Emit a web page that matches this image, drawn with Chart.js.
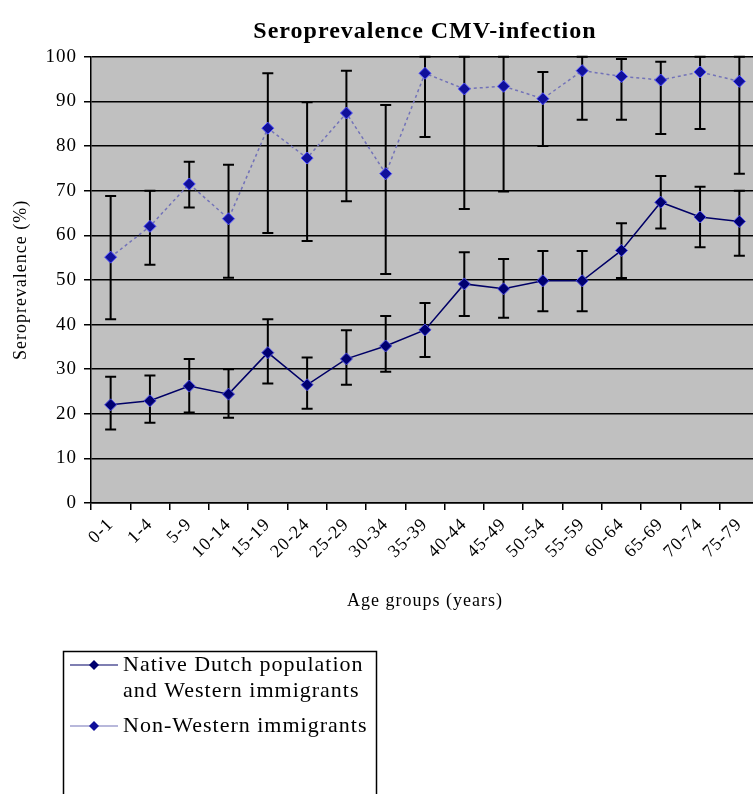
<!DOCTYPE html>
<html>
<head>
<meta charset="utf-8">
<script src="https://cdn.jsdelivr.net/npm/chart.js@4.4.1/dist/chart.umd.min.js"></script>
<style>
html, body { margin: 0; padding: 0; overflow: hidden; background: #fff; }
#wrap { position: relative; width: 770px; height: 794px; }
</style>
</head>
<body>
<div id="wrap"><canvas id="cmvChart" width="770" height="794"></canvas></div>
<script>
// Donnees
var ageGroups = ['0-1', '1-4', '5-9', '10-14', '15-19', '20-24', '25-29', '30-34', '35-39',
    '40-44', '45-49', '50-54', '55-59', '60-64', '65-69', '70-74', '75-79'];

var nativeValues = [22.0, 22.9, 26.2, 24.4, 33.7, 26.5, 32.3, 35.2, 38.8, 49.1, 48.0, 49.8, 49.8, 56.6, 67.4, 64.1, 63.1];
var nativeLow = [16.5, 18.0, 20.3, 19.1, 26.8, 21.1, 26.5, 29.4, 32.7, 41.9, 41.5, 43.0, 43.0, 50.4, 61.5, 57.3, 55.4];
var nativeHigh = [28.3, 28.6, 32.3, 30.0, 41.2, 32.6, 38.7, 41.9, 44.8, 56.2, 54.7, 56.5, 56.5, 62.7, 73.3, 70.9, 70.0];

var nonWesternValues = [55.1, 62.0, 71.5, 63.7, 84.0, 77.3, 87.4, 73.8, 96.3, 92.8, 93.4, 90.6, 96.9, 95.6, 94.8, 96.6, 94.5];
var nonWesternLow = [41.2, 53.4, 66.2, 50.5, 60.5, 58.7, 67.6, 51.3, 82.0, 65.9, 69.8, 80.0, 85.9, 85.9, 82.7, 83.8, 73.8];
var nonWesternHigh = [68.8, 70.0, 76.5, 75.8, 96.3, 89.8, 96.9, 89.2, 100, 100, 100, 96.6, 100, 99.5, 98.9, 100, 100];

var yTicks = [0, 10, 20, 30, 40, 50, 60, 70, 80, 90, 100];

var legendLines = [
    ['Native Dutch population', 'and Western immigrants'],
    ['Non-Western immigrants']
];

var serif = "'Liberation Serif', 'Times New Roman', serif";

// Espacement des lettres (le texte d'origine est assez large)
var espacement = {
    id: 'espacement',
    beforeLayout: function(chart) { chart.ctx.letterSpacing = '1px'; },
    beforeDraw: function(chart) { chart.ctx.letterSpacing = '1px'; }
};

// Fond gris de la zone du graphique
var fondGris = {
    id: 'fondGris',
    beforeDraw: function(chart) {
        var a = chart.chartArea;
        chart.ctx.save();
        chart.ctx.fillStyle = '#c0c0c0';
        chart.ctx.fillRect(a.left, a.top, a.right - a.left, a.bottom - a.top);
        chart.ctx.restore();
    }
};

// Barres d'erreur (intervalles)
var barresErreur = {
    id: 'barresErreur',
    beforeDatasetsDraw: function(chart) {
        var ctx = chart.ctx;
        var xs = chart.scales.x;
        var ys = chart.scales.y;
        ctx.save();
        ctx.strokeStyle = '#000';
        ctx.lineWidth = 2;
        chart.data.datasets.forEach(function(ds) {
            ds.errLow.forEach(function(lo, i) {
                var px = xs.getPixelForValue(i);
                var top = ys.getPixelForValue(ds.errHigh[i]);
                var bot = ys.getPixelForValue(lo);
                ctx.beginPath();
                ctx.moveTo(px, top); ctx.lineTo(px, bot);
                ctx.moveTo(px - 5.5, top); ctx.lineTo(px + 5.5, top);
                ctx.moveTo(px - 5.5, bot); ctx.lineTo(px + 5.5, bot);
                ctx.stroke();
            });
        });
        ctx.restore();
    }
};

// Legende dessinee a la main (libelles sur deux lignes)
var legendeBoite = {
    id: 'legendeBoite',
    afterDraw: function(chart) {
        var ctx = chart.ctx;
        ctx.save();
        ctx.strokeStyle = '#000';
        ctx.lineWidth = 1.5;
        ctx.strokeRect(63.5, 651.5, 313, 200);
        ctx.font = '22px ' + serif;
        ctx.letterSpacing = '1px';
        ctx.textBaseline = 'middle';
        var y = 665;
        chart.data.datasets.forEach(function(ds, k) {
            ctx.strokeStyle = ds.borderColor;
            ctx.lineWidth = 1.2;
            ctx.setLineDash([]);
            ctx.beginPath();
            ctx.moveTo(70, y); ctx.lineTo(118, y);
            ctx.stroke();
            ctx.fillStyle = ds.pointBackgroundColor;
            ctx.beginPath();
            ctx.moveTo(94, y - 5); ctx.lineTo(99, y); ctx.lineTo(94, y + 5); ctx.lineTo(89, y);
            ctx.closePath();
            ctx.fill();
            ctx.fillStyle = '#000';
            legendLines[k].forEach(function(t, j) {
                ctx.fillText(t, 123, y + j * 26);
            });
            y += legendLines[k].length * 26 + 9;
        });
        ctx.restore();
    }
};

var ctxCmv = document.getElementById('cmvChart').getContext('2d');

var cmvChart = new Chart(ctxCmv, {
    type: 'line',
    data: {
        labels: ageGroups,
        datasets: [{
            label: legendLines[0].join(' '),
            data: nativeValues,
            errLow: nativeLow,
            errHigh: nativeHigh,
            borderColor: '#000066',
            borderWidth: 1.5,
            pointStyle: 'rectRot',
            pointRadius: 6,
            pointBackgroundColor: '#000070',
            pointBorderColor: '#4a4ae0',
            pointBorderWidth: 1,
            tension: 0
        }, {
            label: legendLines[1].join(' '),
            data: nonWesternValues,
            errLow: nonWesternLow,
            errHigh: nonWesternHigh,
            borderColor: '#7272b8',
            borderWidth: 1.5,
            borderDash: [3, 3],
            pointStyle: 'rectRot',
            pointRadius: 6,
            pointBackgroundColor: '#10109a',
            pointBorderColor: '#5050ff',
            pointBorderWidth: 1,
            tension: 0
        }]
    },
    options: {
        responsive: false,
        animation: false,
        layout: {
            padding: { left: 0, right: 11, top: 0, bottom: 182 }
        },
        plugins: {
            legend: { display: false },
            tooltip: { enabled: false },
            title: {
                display: true,
                text: 'Seroprevalence CMV-infection',
                fullSize: false,
                color: '#000',
                font: { family: serif, size: 24, weight: 'bold' },
                padding: { top: 17, bottom: 11 }
            }
        },
        scales: {
            x: {
                offset: true,
                grid: {
                    display: true,
                    drawOnChartArea: false,
                    drawTicks: true,
                    tickLength: 7,
                    offset: true,
                    color: '#000',
                    lineWidth: 1.5
                },
                border: { display: true, color: '#000', width: 1.5 },
                ticks: {
                    autoSkip: false,
                    minRotation: 45,
                    maxRotation: 45,
                    color: '#000',
                    padding: 4,
                    font: { family: serif, size: 18 }
                },
                title: {
                    display: true,
                    text: 'Age groups (years)',
                    color: '#000',
                    font: { family: serif, size: 18 },
                    padding: { top: 2, bottom: 0 }
                },
                afterFit: function(scale) { scale.height = 109; }
            },
            y: {
                min: 0,
                max: 100,
                afterBuildTicks: function(scale) {
                    scale.ticks = yTicks.map(function(v) { return { value: v }; });
                },
                grid: {
                    color: '#000',
                    lineWidth: 1.5,
                    tickLength: 7
                },
                border: { display: true, color: '#000', width: 1.5 },
                ticks: {
                    color: '#000',
                    padding: 7,
                    font: { family: serif, size: 19 }
                },
                title: {
                    display: true,
                    text: 'Seroprevalence (%)',
                    color: '#000',
                    font: { family: serif, size: 18 },
                    padding: { top: 10, bottom: 0 }
                },
                afterFit: function(scale) { scale.width = 91; }
            }
        }
    },
    plugins: [espacement, fondGris, barresErreur, legendeBoite]
});
</script>
</body>
</html>
